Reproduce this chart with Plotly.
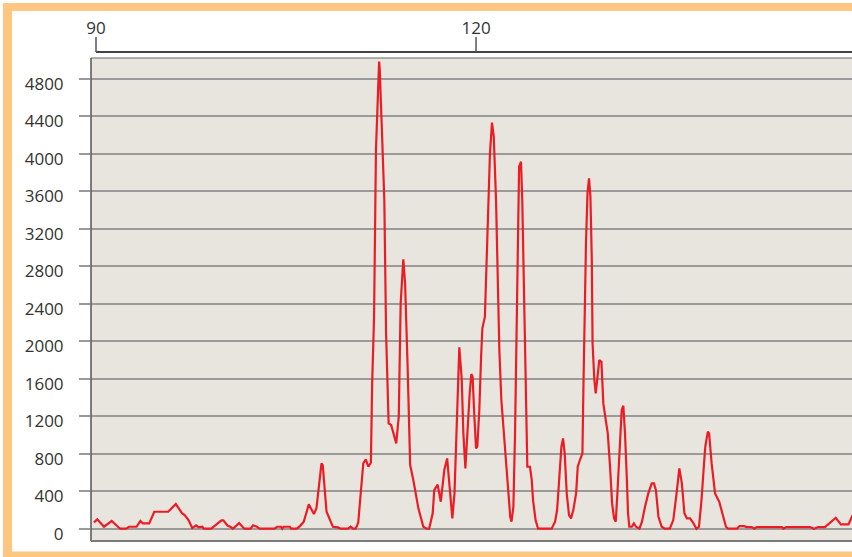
import plotly.graph_objects as go

# ---- data ----
x_vals = [89.84, 90.1, 90.63, 91.24, 91.9, 92.4, 92.6, 93.2, 93.5, 93.7, 94.2, 94.6, 94.8, 95.7,
          96.3, 96.8, 97.0, 97.3, 97.6, 97.9, 98.1, 98.4, 98.5, 99.1, 99.9, 100.05, 100.4, 100.6,
          100.8, 101.3, 101.7, 102.2, 102.4, 102.7, 102.9, 104.1, 104.3, 104.6, 104.7, 104.8,
          105.3, 105.4, 105.85, 106.1, 106.4, 106.8, 107.2, 107.4, 107.8, 107.9, 108.2, 108.5,
          108.7, 109.1, 109.3, 109.9, 110.1, 110.3, 110.5, 110.7, 111.1, 111.3, 111.5, 111.7,
          111.8, 111.95, 112.1, 112.35, 112.4, 112.55, 112.76, 112.9, 113.1, 113.3, 113.7, 113.9,
          114.05, 114.26, 114.4, 114.6, 114.8, 115.05, 115.2, 115.45, 115.84, 116.1, 116.3,
          116.58, 116.7, 116.97, 117.22, 117.5, 117.72, 117.92, 118.13, 118.3, 118.5, 118.68,
          118.87, 119.0, 119.16, 119.3, 119.5, 119.63, 119.73, 119.87, 120.0, 120.1, 120.26,
          120.4, 120.5, 120.7, 120.84, 120.97, 121.1, 121.26, 121.4, 121.58, 121.7, 121.84,
          122.0, 122.3, 122.56, 122.7, 122.8, 122.95, 123.08, 123.2, 123.35, 123.4, 123.55,
          123.65, 123.8, 123.95, 124.05, 124.26, 124.4, 124.5, 124.7, 124.9, 125.97, 126.24,
          126.4, 126.58, 126.74, 126.87, 127.0, 127.16, 127.34, 127.5, 127.68, 127.9, 128.03,
          128.2, 128.4, 128.47, 128.58, 128.68, 128.8, 128.92, 129.03, 129.14, 129.2, 129.34,
          129.45, 129.57, 129.73, 129.9, 130.05, 130.2, 130.4, 130.58, 130.74, 130.9, 131.03,
          131.16, 131.3, 131.5, 131.63, 131.76, 131.9, 132.0, 132.1, 132.3, 132.46, 132.63,
          132.9, 133.1, 133.34, 133.6, 133.87, 134.05, 134.2, 134.4, 134.66, 134.9, 135.3,
          135.57, 135.8, 136.05, 136.25, 136.45, 136.65, 136.9, 137.17, 137.4, 137.6, 137.8,
          138.0, 138.1, 138.3, 138.4, 138.6, 138.87, 139.2, 139.5, 139.73, 139.9, 140.6, 140.8,
          141.16, 141.37, 141.76, 141.97, 142.16, 144.13, 144.26, 144.5, 146.37, 146.68, 147.0,
          147.55, 147.9, 148.4, 148.8, 149.4, 149.7, 150.0]
y_vals = [68, 100, 21, 82, 0, 0, 21, 21, 82, 57, 57, 181, 181, 181,
          263, 164, 146, 92, 7, 36, 14, 21, 0, 0, 89, 89, 32, 21,
          0, 60, 0, 0, 36, 21, 0, 0, 21, 21, 0, 21,
          21, 0, 0, 28, 75, 260, 156, 217, 697, 679, 181, 92,
          21, 14, 0, 0, 21, 0, 0, 64, 697, 740, 661, 704,
          1550, 2262, 4040, 4982, 4893, 4324, 3506, 2084, 1124, 1106, 910, 1195,
          2404, 2873, 2617, 1728, 679, 519, 412, 217, 21, 0, 0,
          164, 412, 470, 288, 630, 750, 400, 110, 377, 1195, 1934,
          1600, 1017, 644, 1017, 1444, 1650, 1621, 1195, 857, 875, 1266,
          1835, 2137, 2262, 2795, 3506, 4004, 4331, 4182, 3506, 2795, 1906,
          1373, 839, 306, 128, 75, 235, 1017, 2084, 3150, 3862, 3915,
          3506, 2439, 1373, 661, 661, 519, 306, 92, 0, 0, 75,
          199, 555, 875, 964, 804, 377, 146, 110, 199, 377, 661,
          733, 804, 1444, 2333, 3044, 3577, 3737, 3542, 2866, 1977, 1586,
          1444, 1621, 1799, 1780, 1337, 1195, 1017, 661, 270, 110, 75,
          377, 804, 1266, 1312, 1017, 555, 164, 21, 21, 57, 21,
          0, 75, 235, 377, 484, 484, 412, 128, 21, 0, 0,
          92, 341, 644, 484, 164, 110, 110, 57, 0, 21, 306,
          697, 875, 1035, 1017, 697, 377, 288, 128, 21, 0, 0, 28,
          28, 18, 18, 0, 18, 18, 0, 18, 18, 0, 18,
          18, 57, 117, 46, 46, 135, 200]

x_ticks = [90, 120]
y_ticks = [0, 400, 800, 1200, 1600, 2000, 2400, 2800, 3200, 3600, 4000, 4400, 4800]

# ---- layout constants (pixels) ----
W, H = 852, 557
ML, MR, MT, MB = 91, 0, 52, 16
PW, PH = W - ML - MR, H - MT - MB
plot_top = 58
ydom_top = (H - MB - plot_top) / PH

def px_x(p):
    return (p - ML) / PW

def px_y(p):
    return (H - MB - p) / PH

FONT = "Open Sans"
ORANGE = "#FEC681"

fig = go.Figure()
fig.add_trace(go.Scatter(x=x_vals, y=y_vals, mode="lines",
                         line=dict(color="#ED1C24", width=2.2),
                         hoverinfo="skip", showlegend=False))

shapes = []
# plot frame: left, top, bottom
shapes.append(dict(type="line", xref="x domain", yref="y domain", x0=0, x1=0, y0=0, y1=1,
                   line=dict(color="#555555", width=1.5)))
shapes.append(dict(type="line", xref="x domain", yref="y domain", x0=0, x1=1, y0=1, y1=1,
                   line=dict(color="#666666", width=1.2)))
shapes.append(dict(type="line", xref="x domain", yref="y domain", x0=0, x1=1, y0=0, y1=0,
                   line=dict(color="#7a7a7a", width=2)))
# top x-axis line starting at first tick
shapes.append(dict(type="line", xref="x", yref="paper", x0=x_ticks[0], x1=200, y0=1, y1=1,
                   line=dict(color="#444444", width=2)))
# x tick marks
for t in x_ticks:
    shapes.append(dict(type="line", xref="x", yref="paper", x0=t, x1=t, y0=1, y1=px_y(37),
                       line=dict(color="#555555", width=1.5)))
# orange border
shapes.append(dict(type="rect", xref="paper", yref="paper",
                   x0=px_x(3), x1=px_x(12), y0=px_y(560), y1=px_y(3),
                   line=dict(width=0), fillcolor=ORANGE, layer="above"))
shapes.append(dict(type="rect", xref="paper", yref="paper",
                   x0=px_x(3), x1=px_x(870), y0=px_y(11), y1=px_y(3),
                   line=dict(width=0), fillcolor=ORANGE, layer="above"))
shapes.append(dict(type="rect", xref="paper", yref="paper",
                   x0=px_x(3), x1=px_x(870), y0=px_y(560), y1=px_y(551.5),
                   line=dict(width=0), fillcolor=ORANGE, layer="above"))

fig.update_layout(
    width=W, height=H,
    margin=dict(l=ML, r=MR, t=MT, b=MB, pad=0),
    paper_bgcolor="white",
    plot_bgcolor="#E8E4DE",
    font=dict(family=FONT, size=17, color="#333333"),
    shapes=shapes,
    xaxis=dict(
        range=[89.605, 149.68], side="top", anchor="free", position=1,
        tickmode="array", tickvals=x_ticks, ticktext=[str(v) for v in x_ticks],
        ticks="outside", ticklen=11, tickwidth=1, tickcolor="rgba(0,0,0,0)",
        showgrid=False, zeroline=False, showline=False,
        tickfont=dict(family=FONT, size=17, color="#333333"),
    ),
    yaxis=dict(
        range=[-131, 5021], domain=[0, ydom_top],
        tickmode="array", tickvals=y_ticks, ticktext=[str(v) for v in y_ticks],
        ticks="outside", ticklen=11, tickwidth=1.5, tickcolor="#9a9a9a",
        showgrid=True, gridcolor="#9a9a9a", gridwidth=1.5,
        zeroline=False, showline=False,
        ticklabelstandoff=12, ticklabelshift=5,
        tickfont=dict(family=FONT, size=17, color="#333333"),
    ),
)

fig.write_html("out.html", config={"displayModeBar": False},
               post_script="document.body.style.margin='0';document.body.style.overflow='hidden';")
